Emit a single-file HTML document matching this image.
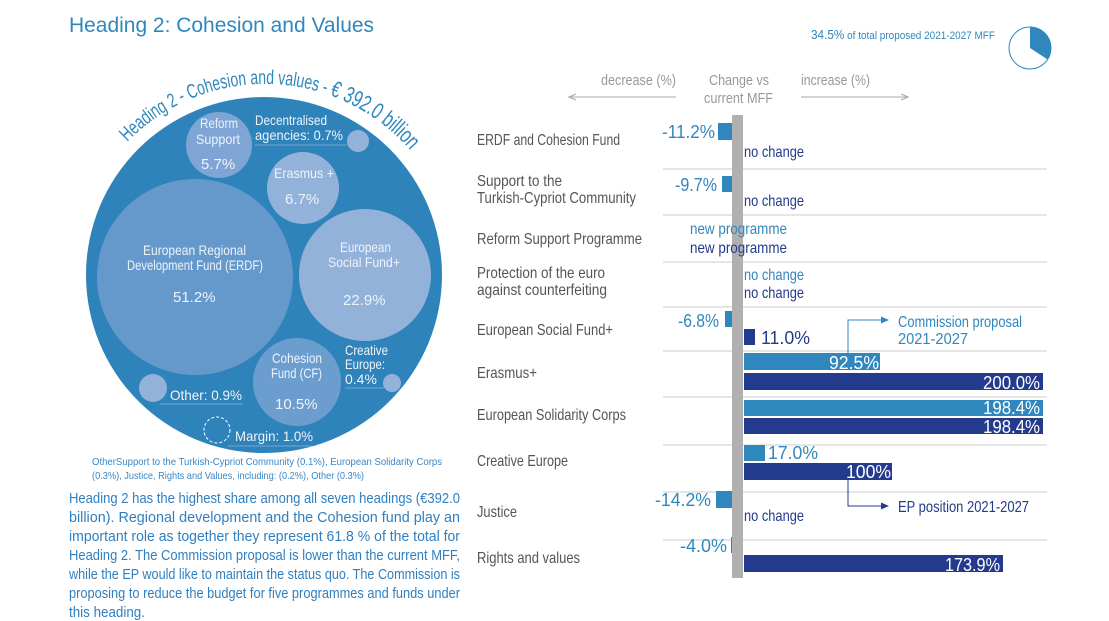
<!DOCTYPE html>
<html><head><meta charset="utf-8"><style>
html,body{margin:0;padding:0;background:#fff;}
svg{display:block;}
text{font-family:"Liberation Sans",sans-serif;}
</style></head><body>
<svg width="1109" height="621" viewBox="0 0 1109 621" xmlns="http://www.w3.org/2000/svg">
<defs>
<marker id="ag" markerWidth="8" markerHeight="8" refX="7" refY="4" orient="auto"><path d="M0,1 L7,4 L0,7" fill="none" stroke="#aaa" stroke-width="1.2"/></marker>
<marker id="al" markerWidth="8" markerHeight="8" refX="7" refY="4" orient="auto"><path d="M0,0.5 L8,4 L0,7.5 Z" fill="#2f87bd"/></marker>
<marker id="ad" markerWidth="8" markerHeight="8" refX="7" refY="4" orient="auto"><path d="M0,0.5 L8,4 L0,7.5 Z" fill="#243a8c"/></marker>
<path id="arc" d="M 127.4 142.0 A 192 192 0 0 1 418.0 160.0" fill="none"/>
</defs>

<text x="69" y="32" font-size="21" fill="#2f87bd" textLength="305" lengthAdjust="spacingAndGlyphs">Heading 2: Cohesion and Values</text>

<text x="811" y="39" font-size="13" fill="#2f87bd" textLength="184" lengthAdjust="spacingAndGlyphs">34.5%<tspan font-size="11"> of total proposed 2021-2027 MFF</tspan></text>
<circle cx="1030" cy="48" r="21" fill="#fff" stroke="#2f87bd" stroke-width="1"/>
<path d="M1030,48 L1030,27 A21,21 0 0 1 1047.6,59.5 Z" fill="#2f87bd"/>

<circle cx="264" cy="275" r="178" fill="#2f83bb"/>
<circle cx="195" cy="277" r="98" fill="#6699cb"/>
<circle cx="365" cy="275" r="66" fill="#93b2d9"/>
<circle cx="219" cy="145" r="33" fill="#7ea5d3"/>
<circle cx="303" cy="188" r="36" fill="#93b2d9"/>
<circle cx="297" cy="382" r="44" fill="#6b9ecf"/>
<circle cx="358" cy="141" r="11" fill="#93b2d9"/>
<circle cx="153" cy="388" r="14" fill="#93b2d9"/>
<circle cx="392" cy="383" r="9" fill="#93b2d9"/>
<circle cx="217" cy="430" r="13" fill="none" stroke="#fff" stroke-width="1" stroke-dasharray="3,2"/>
<g stroke="#8fb0d8" stroke-width="0.8">
<line x1="255" y1="145" x2="347" y2="145"/>
<line x1="160" y1="404" x2="243" y2="404"/>
<line x1="345" y1="388" x2="384" y2="388"/>
<line x1="228" y1="446" x2="313" y2="446"/>
</g>
<text font-size="20" fill="#2f87bd"><textPath href="#arc" textLength="318" lengthAdjust="spacingAndGlyphs">Heading 2 - Cohesion and values - <tspan font-size="23">€ 392.0 billion</tspan></textPath></text>

<g fill="#eef3fa" font-size="14">
<text x="200" y="128" textLength="38" lengthAdjust="spacingAndGlyphs">Reform</text>
<text x="196" y="144" textLength="44" lengthAdjust="spacingAndGlyphs">Support</text>
<text x="201" y="169" font-size="15">5.7%</text>
<text x="274" y="178" textLength="60" lengthAdjust="spacingAndGlyphs">Erasmus +</text>
<text x="285" y="204" font-size="15">6.7%</text>
<text x="143" y="255" textLength="103" lengthAdjust="spacingAndGlyphs">European Regional</text>
<text x="127" y="270" textLength="136" lengthAdjust="spacingAndGlyphs">Development Fund (ERDF)</text>
<text x="173" y="302" font-size="15">51.2%</text>
<text x="340" y="252" textLength="51" lengthAdjust="spacingAndGlyphs">European</text>
<text x="328" y="267" textLength="72" lengthAdjust="spacingAndGlyphs">Social Fund+</text>
<text x="343" y="305" font-size="15">22.9%</text>
<text x="272" y="363" textLength="50" lengthAdjust="spacingAndGlyphs">Cohesion</text>
<text x="271" y="378" textLength="51" lengthAdjust="spacingAndGlyphs">Fund (CF)</text>
<text x="275" y="409" font-size="15">10.5%</text>
<text x="255" y="125" textLength="72" lengthAdjust="spacingAndGlyphs">Decentralised</text>
<text x="255" y="140" textLength="88" lengthAdjust="spacingAndGlyphs">agencies: 0.7%</text>
<text x="345" y="355" textLength="43" lengthAdjust="spacingAndGlyphs">Creative</text>
<text x="345" y="369" textLength="40" lengthAdjust="spacingAndGlyphs">Europe:</text>
<text x="345" y="384" font-size="14">0.4%</text>
<text x="170" y="400" textLength="72" lengthAdjust="spacingAndGlyphs">Other: 0.9%</text>
<text x="235" y="441" textLength="78" lengthAdjust="spacingAndGlyphs">Margin: 1.0%</text>
</g>

<g fill="#3a86c4" font-size="10.5">
<text x="92" y="465" textLength="350" lengthAdjust="spacingAndGlyphs">OtherSupport to the Turkish-Cypriot Community (0.1%), European Solidarity Corps</text>
<text x="92" y="479" textLength="272" lengthAdjust="spacingAndGlyphs">(0.3%), Justice, Rights and Values, including: (0.2%), Other (0.3%)</text>
</g>

<g fill="#2f7fc0" font-size="15">
<text x="69" y="503" textLength="391" lengthAdjust="spacingAndGlyphs">Heading 2 has the highest share among all seven headings (€392.0</text>
<text x="69" y="522" textLength="391" lengthAdjust="spacingAndGlyphs">billion). Regional development and the Cohesion fund play an</text>
<text x="69" y="541" textLength="391" lengthAdjust="spacingAndGlyphs">important role as together they represent 61.8 % of the total for</text>
<text x="69" y="560" textLength="391" lengthAdjust="spacingAndGlyphs">Heading 2. The Commission proposal is lower than the current MFF,</text>
<text x="69" y="579" textLength="391" lengthAdjust="spacingAndGlyphs">while the EP would like to maintain the status quo. The Commission is</text>
<text x="69" y="598" textLength="391" lengthAdjust="spacingAndGlyphs">proposing to reduce the budget for five programmes and funds under</text>
<text x="69" y="617" textLength="76" lengthAdjust="spacingAndGlyphs">this heading.</text>
</g>

<g fill="#999" font-size="15">
<text x="601" y="85" textLength="75" lengthAdjust="spacingAndGlyphs">decrease (%)</text>
<text x="709" y="85" textLength="60" lengthAdjust="spacingAndGlyphs">Change vs</text>
<text x="704" y="103" textLength="69" lengthAdjust="spacingAndGlyphs">current MFF</text>
<text x="801" y="85" textLength="69" lengthAdjust="spacingAndGlyphs">increase (%)</text>
</g>
<line x1="676" y1="97" x2="569" y2="97" stroke="#aaa" stroke-width="1" marker-end="url(#ag)"/>
<line x1="801" y1="97" x2="908" y2="97" stroke="#aaa" stroke-width="1" marker-end="url(#ag)"/>

<g stroke="#ccc" stroke-width="1">
<line x1="663" y1="169" x2="1047" y2="169"/>
<line x1="663" y1="215" x2="1047" y2="215"/>
<line x1="663" y1="262" x2="1047" y2="262"/>
<line x1="663" y1="307" x2="1047" y2="307"/>
<line x1="663" y1="351" x2="1047" y2="351"/>
<line x1="663" y1="397" x2="1047" y2="397"/>
<line x1="663" y1="445" x2="1047" y2="445"/>
<line x1="663" y1="492" x2="1047" y2="492"/>
<line x1="663" y1="540" x2="1047" y2="540"/>
</g>

<g fill="#555" font-size="16">
<text x="477" y="145" textLength="143" lengthAdjust="spacingAndGlyphs">ERDF and Cohesion Fund</text>
<text x="477" y="186" textLength="85" lengthAdjust="spacingAndGlyphs">Support to the</text>
<text x="477" y="203" textLength="159" lengthAdjust="spacingAndGlyphs">Turkish-Cypriot Community</text>
<text x="477" y="244" textLength="165" lengthAdjust="spacingAndGlyphs">Reform Support Programme</text>
<text x="477" y="278" textLength="128" lengthAdjust="spacingAndGlyphs">Protection of the euro</text>
<text x="477" y="295" textLength="130" lengthAdjust="spacingAndGlyphs">against counterfeiting</text>
<text x="477" y="335" textLength="136" lengthAdjust="spacingAndGlyphs">European Social Fund+</text>
<text x="477" y="378" textLength="60" lengthAdjust="spacingAndGlyphs">Erasmus+</text>
<text x="477" y="420" textLength="149" lengthAdjust="spacingAndGlyphs">European Solidarity Corps</text>
<text x="477" y="466" textLength="91" lengthAdjust="spacingAndGlyphs">Creative Europe</text>
<text x="477" y="517" textLength="40" lengthAdjust="spacingAndGlyphs">Justice</text>
<text x="477" y="563" textLength="103" lengthAdjust="spacingAndGlyphs">Rights and values</text>
</g>

<g fill="#2f87bd">
<rect x="718" y="123" width="15" height="17"/>
<rect x="722" y="176" width="11" height="16"/>
<rect x="725" y="311" width="8" height="16"/>
<rect x="744" y="353" width="136" height="17"/>
<rect x="744" y="400" width="299" height="16"/>
<rect x="744" y="445" width="21" height="16"/>
<rect x="716" y="491" width="17" height="17"/>
<rect x="731" y="537" width="2" height="16"/>
</g>
<g fill="#243a8c">
<rect x="744" y="329" width="11" height="16"/>
<rect x="744" y="373" width="299" height="17"/>
<rect x="744" y="418" width="299" height="16"/>
<rect x="744" y="463" width="148" height="17"/>
<rect x="744" y="555" width="259" height="17"/>
</g>
<rect x="732" y="115" width="11" height="463" fill="#b0b0b0"/>

<g fill="#2f87bd" font-size="18">
<text x="662" y="138" textLength="53" lengthAdjust="spacingAndGlyphs">-11.2%</text>
<text x="675" y="191" textLength="42" lengthAdjust="spacingAndGlyphs">-9.7%</text>
<text x="678" y="327" textLength="41" lengthAdjust="spacingAndGlyphs">-6.8%</text>
<text x="655" y="506" textLength="56" lengthAdjust="spacingAndGlyphs">-14.2%</text>
<text x="680" y="552" textLength="47" lengthAdjust="spacingAndGlyphs">-4.0%</text>
<text x="768" y="459" textLength="50" lengthAdjust="spacingAndGlyphs">17.0%</text>
</g>
<g fill="#2f87bd" font-size="16">
<text x="690" y="234" textLength="97" lengthAdjust="spacingAndGlyphs">new programme</text>
<text x="744" y="280" textLength="60" lengthAdjust="spacingAndGlyphs">no change</text>
<text x="898" y="327" textLength="124" lengthAdjust="spacingAndGlyphs">Commission proposal</text>
<text x="898" y="344" textLength="70" lengthAdjust="spacingAndGlyphs">2021-2027</text>
</g>
<g fill="#243a8c" font-size="16">
<text x="744" y="157" textLength="60" lengthAdjust="spacingAndGlyphs">no change</text>
<text x="744" y="206" textLength="60" lengthAdjust="spacingAndGlyphs">no change</text>
<text x="690" y="253" textLength="97" lengthAdjust="spacingAndGlyphs">new programme</text>
<text x="744" y="298" textLength="60" lengthAdjust="spacingAndGlyphs">no change</text>
<text x="744" y="521" textLength="60" lengthAdjust="spacingAndGlyphs">no change</text>
<text x="898" y="512" textLength="131" lengthAdjust="spacingAndGlyphs">EP position 2021-2027</text>
<text x="761" y="344" font-size="18" textLength="49" lengthAdjust="spacingAndGlyphs">11.0%</text>
</g>
<g fill="#fff" font-size="18">
<text x="829" y="369" textLength="50" lengthAdjust="spacingAndGlyphs">92.5%</text>
<text x="983" y="389" textLength="57" lengthAdjust="spacingAndGlyphs">200.0%</text>
<text x="983" y="414" textLength="57" lengthAdjust="spacingAndGlyphs">198.4%</text>
<text x="983" y="433" textLength="57" lengthAdjust="spacingAndGlyphs">198.4%</text>
<text x="846" y="478" textLength="45" lengthAdjust="spacingAndGlyphs">100%</text>
<text x="945" y="571" textLength="55" lengthAdjust="spacingAndGlyphs">173.9%</text>
</g>

<polyline points="848,354 848,320 888,320" fill="none" stroke="#2f87bd" stroke-width="1" marker-end="url(#al)"/>
<polyline points="848,480 848,506 888,506" fill="none" stroke="#243a8c" stroke-width="1" marker-end="url(#ad)"/>
</svg>
</body></html>
